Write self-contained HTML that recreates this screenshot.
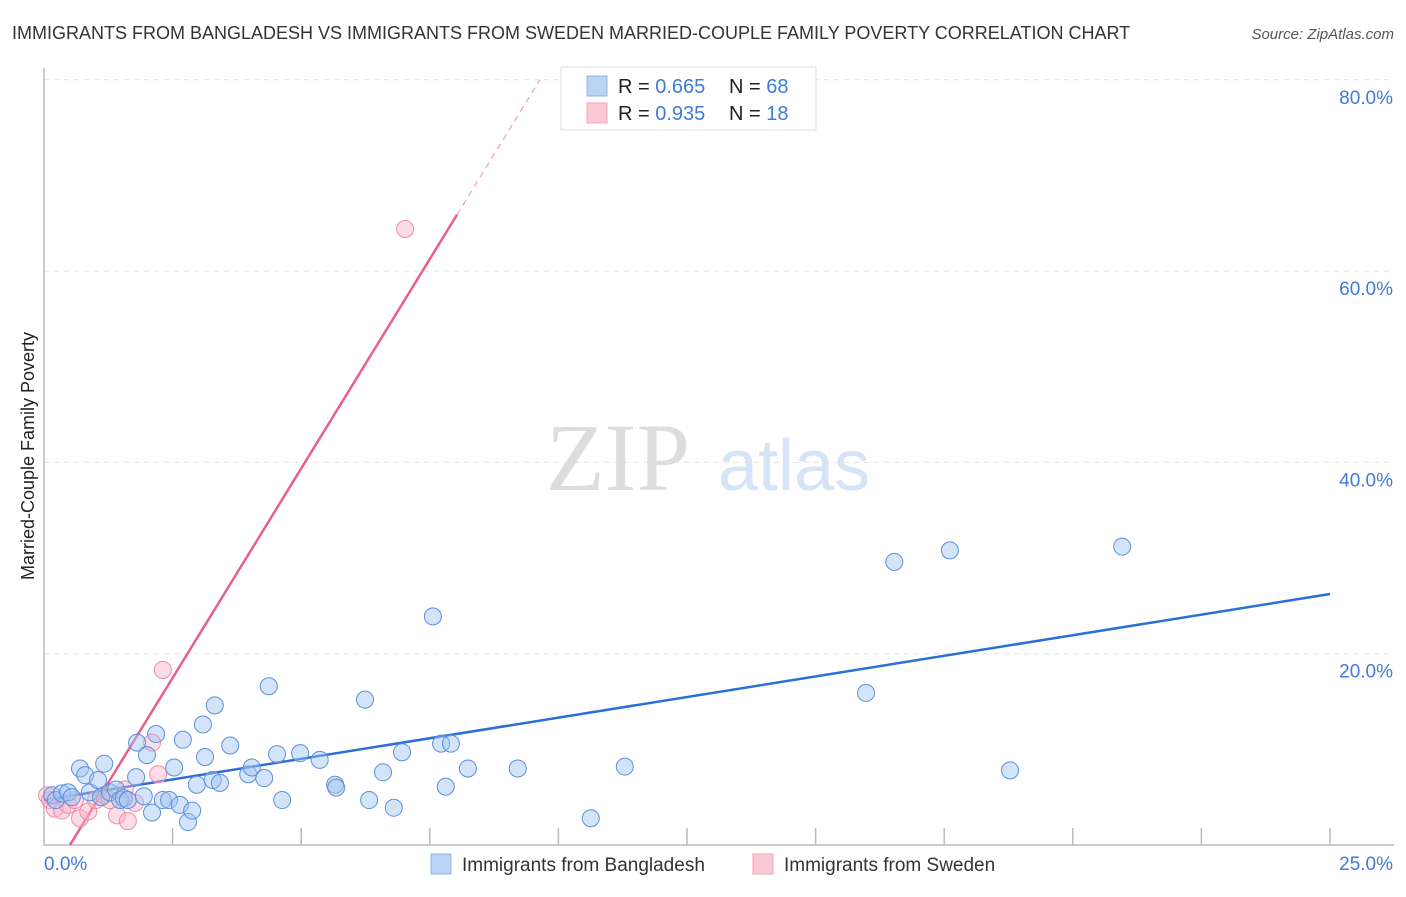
<!DOCTYPE html>
<html><head><meta charset="utf-8"><style>
body{margin:0;background:#fff;font-family:"Liberation Sans",sans-serif;}
svg text{font-family:"Liberation Sans",sans-serif;}
</style></head><body>
<svg id="chart" width="1406" height="892" xmlns="http://www.w3.org/2000/svg">
<text x="12" y="39" font-size="18" fill="#333">IMMIGRANTS FROM BANGLADESH VS IMMIGRANTS FROM SWEDEN MARRIED-COUPLE FAMILY POVERTY CORRELATION CHART</text>
<text x="1394" y="39" font-size="15" fill="#555" font-style="italic" text-anchor="end">Source: ZipAtlas.com</text>
<text transform="translate(34,456) rotate(-90)" font-size="18" fill="#222" text-anchor="middle">Married-Couple Family Poverty</text>
<g><text x="690" y="490" font-size="96" fill="#ddd" text-anchor="end" font-family="Liberation Serif" style="font-family:'Liberation Serif',serif">ZIP</text><text x="718" y="490" font-size="72" fill="#d6e4f7" text-anchor="start">atlas</text></g>
<g id="grid"></g><g id="axes"></g><g id="lines"></g><g id="pts"></g>
<g>
<rect x="561" y="67" width="255" height="63" fill="#fff" stroke="#ddd"/>
<rect x="587" y="76" width="20" height="20" fill="#b9d3f5" stroke="#8fb5ea"/>
<rect x="587" y="103" width="20" height="20" fill="#fbc8d6" stroke="#f2a3b8"/>
<text x="618" y="93" font-size="20" fill="#222">R = <tspan fill="#3f7bd8">0.665</tspan></text>
<text x="729" y="93" font-size="20" fill="#222">N = <tspan fill="#3f7bd8">68</tspan></text>
<text x="618" y="120" font-size="20" fill="#222">R = <tspan fill="#3f7bd8">0.935</tspan></text>
<text x="729" y="120" font-size="20" fill="#222">N = <tspan fill="#3f7bd8"> 18</tspan></text>
</g>
<g>
<rect x="431" y="854" width="20" height="20" fill="#b9d3f5" stroke="#8fb5ea"/>
<text x="462" y="871" font-size="19" fill="#333">Immigrants from Bangladesh</text>
<rect x="753" y="854" width="20" height="20" fill="#fbc8d6" stroke="#f2a3b8"/>
<text x="784" y="871" font-size="19" fill="#333">Immigrants from Sweden</text>
</g>
</svg>
<script>
const blueX=[0.16,0.23,0.35,0.47,0.54,0.7,0.8,0.89,1.05,1.17,1.11,1.28,1.4,1.48,1.55,1.63,1.81,1.79,1.94,2.0,2.1,2.18,2.31,2.43,2.53,2.64,2.7,2.8,2.88,2.97,3.09,3.13,3.28,3.32,3.42,3.62,3.97,4.04,4.28,4.37,4.53,4.63,4.98,5.36,5.66,5.68,6.24,6.32,6.59,6.8,6.96,7.56,7.72,7.81,7.91,8.24,9.21,10.63,11.29,15.98,16.53,17.61,18.78,20.96];
const blueY=[5.2,4.7,5.4,5.5,5.0,8.0,7.3,5.5,6.8,8.5,5.0,5.5,5.8,4.7,4.9,4.7,10.7,7.1,5.1,9.4,3.4,11.6,4.7,4.7,8.1,4.2,11.0,2.4,3.6,6.3,12.6,9.2,6.8,14.6,6.5,10.4,7.4,8.1,7.0,16.6,9.5,4.7,9.6,8.9,6.3,6.0,15.2,4.7,7.6,3.9,9.7,23.9,10.6,6.1,10.6,8.0,8.0,2.8,8.2,15.9,29.6,30.8,7.8,31.2];
const pinkX=[0.06,0.12,0.21,0.35,0.47,0.6,0.7,0.86,1.01,1.17,1.28,1.42,1.57,1.63,1.77,2.1,2.22,2.31,7.02];
const pinkY=[5.2,4.7,3.8,3.6,4.2,4.7,2.8,3.5,4.7,5.2,4.7,3.1,5.8,2.5,4.4,10.7,7.4,18.3,64.4];
const yTicks=[20,40,60,80];const yTickLabels=["20.0%","40.0%","60.0%","80.0%"];
const xTicks=[0,2.5,5,7.5,10,12.5,15,17.5,20,22.5,25];
const blueTrend=[[0,4.7],[25,26.24]];
const pinkTrend=[[0.505,0],[8.03,65.9]];const pinkDash=[[8.03,65.9],[9.64,80]];
const X=v=>44+v*51.44, Y=v=>845-v*9.565;
const NS="http://www.w3.org/2000/svg";
function mk(p,t,a){const e=document.createElementNS(NS,t);for(const k in a)e.setAttribute(k,a[k]);document.getElementById(p).appendChild(e);return e;}
yTicks.forEach((t,i)=>{
 const g=mk('grid','line',{x1:44,x2:1394,y1:Y(t),y2:Y(t),stroke:'#e2e2e2','stroke-dasharray':'5,5'});
 
 
 const l=mk('axes','text',{x:1393,y:Y(t)+24,'font-size':19,fill:'#3f7bd8','text-anchor':'end'});l.textContent=yTickLabels[i];
 
 
});
const ax=mk('axes','path',{d:`M44,68V845H1394`,fill:'none',stroke:'#bbb','stroke-width':1.5});


xTicks.forEach((t,i)=>{if(i==0)return;const k=mk('axes','line',{x1:X(t),x2:X(t),y1:828,y2:845,stroke:'#bbb','stroke-width':1.5});
 
 });
const x0=mk('axes','text',{x:44,y:870,'font-size':19,fill:'#3f7bd8'});x0.textContent='0.0%';


const x1=mk('axes','text',{x:1393,y:870,'font-size':19,fill:'#3f7bd8','text-anchor':'end'});x1.textContent='25.0%';


pinkX.forEach((v,i)=>{const c=mk('pts','circle',{cx:X(v),cy:Y(pinkY[i]),r:8.5,fill:'rgba(248,180,200,0.45)',stroke:'#f08aa8','stroke-width':1});
 
 });
blueX.forEach((v,i)=>{const c=mk('pts','circle',{cx:X(v),cy:Y(blueY[i]),r:8.5,fill:'rgba(160,195,240,0.45)',stroke:'#5b8fdc','stroke-width':1});
 
 });
const bl=mk('lines','line',{x1:X(blueTrend[0][0]),y1:Y(blueTrend[0][1]),x2:X(blueTrend[1][0]),y2:Y(blueTrend[1][1]),stroke:'#2a6fd6','stroke-width':2.5});


const pl=mk('lines','line',{x1:X(pinkTrend[0][0]),y1:Y(pinkTrend[0][1]),x2:X(pinkTrend[1][0]),y2:Y(pinkTrend[1][1]),stroke:'#e8608a','stroke-width':2.5});


const pd=mk('lines','line',{x1:X(pinkDash[0][0]),y1:Y(pinkDash[0][1]),x2:X(pinkDash[1][0]),y2:Y(pinkDash[1][1]),stroke:'#eea0b6','stroke-width':1.2,'stroke-dasharray':'6,5'});


</script>
</body></html>
